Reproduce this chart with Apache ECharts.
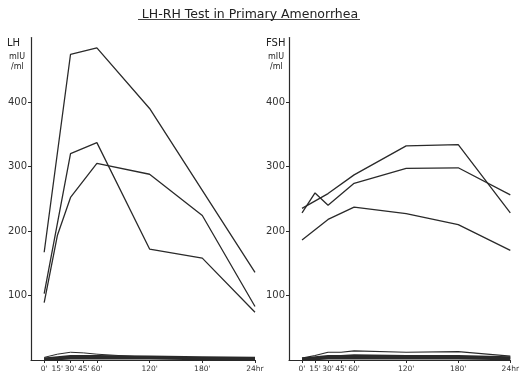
<!DOCTYPE html>
<html><head><meta charset="utf-8">
<script src="https://cdn.jsdelivr.net/npm/echarts@6/dist/echarts.min.js"></script>
<style>html,body{margin:0;padding:0;background:#fff}#c{width:522px;height:377px}</style>
</head><body><div id="c"></div>
<script>
const titleText = "LH-RH Test in Primary Amenorrhea";
const xMinutes = [0, 15, 30, 45, 60, 120, 180, 240];
const xLabels = ["0'", "15'", "30'", "45'", "60'", "120'", "180'", "24hr"];
const yTicks = [100, 200, 300, 400];

const lh1 = [167, null, 474, null, 484, 390, null, 136];
const lh2 = [103, null, 320, null, 337, 172, 158, 74];
const lh3 = [89, 193, 252, null, 305, 288, 224, 83];
const lh4 = [4, 9, 12, 11, 9, 4, 3, 2];
const lh5 = [2, 4, 6, 6, 6, 5, 4, 3];
const lh6 = [1, 2, 3, 3, 3, 3, 2, 2];

const fsh1 = [228, 259, 240, null, 274, 297, 298, 256];
const fsh2 = [235, null, 258, null, 287, 332, 334, 228];
const fsh3 = [186, null, 218, null, 237, 227, 210, 170];
const fsh4 = [3, 7, 12, 12, 14, 12, 13, 6];
const fsh5 = [2, 4, 6, 6, 7, 6, 6, 4];
const fsh6 = [1, 2, 3, 3, 3, 3, 3, 2];

function pairs(arr) {
  const out = [];
  arr.forEach((v, i) => { if (v !== null) out.push([xMinutes[i], v]); });
  return out;
}
const ink = '#2a2a2a';
function line(data, idx, w) {
  return { type: 'line', xAxisIndex: idx, yAxisIndex: idx, data: pairs(data), symbol: 'none',
    lineStyle: { color: ink, width: w || 1.3 }, silent: true, animation: false, z: w > 2 ? 3 : 2 };
}
function xAx(idx) {
  return { gridIndex: idx, type: 'value', min: -15, max: 240,
    axisLine: { show: true, onZero: false, lineStyle: { color: ink, width: 1.2 } },
    axisTick: { show: true, customValues: xMinutes, length: 3, lineStyle: { color: ink } },
    axisLabel: { customValues: xMinutes, fontSize: 7.5, color: '#333', margin: 5, fontFamily: 'DejaVu Sans',
      formatter: v => { const i = xMinutes.indexOf(v); return i >= 0 ? xLabels[i] : ''; } },
    splitLine: { show: false } };
}
function yAx(idx) {
  return { gridIndex: idx, type: 'value', min: 0, max: 500,
    axisLine: { show: true, onZero: false, lineStyle: { color: ink, width: 1.2 } },
    axisTick: { show: true, customValues: yTicks, length: 3, lineStyle: { color: ink } },
    axisLabel: { customValues: yTicks, fontSize: 10, color: '#333', margin: 4, fontFamily: 'DejaVu Sans' },
    splitLine: { show: false } };
}
const chart = echarts.init(document.getElementById('c'));
chart.setOption({
  backgroundColor: '#fff',
  animation: false,
  title: { text: titleText, left: 245, top: 3, textAlign: 'center',
    textStyle: { fontSize: 12.5, fontWeight: 'normal', color: '#222', fontFamily: 'DejaVu Sans' } },
  graphic: [
    { type: 'line', shape: { x1: 138, y1: 19.5, x2: 360, y2: 19.5 }, style: { stroke: '#444', lineWidth: 1 } },
    { type: 'text', left: 7, top: 38, style: { text: 'LH', fontSize: 10, fill: '#222', fontFamily: 'DejaVu Sans' } },
    { type: 'text', left: 9, top: 53, style: { text: 'mIU', fontSize: 8, fill: '#222', fontFamily: 'DejaVu Sans' } },
    { type: 'text', left: 11, top: 63, style: { text: '/ml', fontSize: 8, fill: '#222', fontFamily: 'DejaVu Sans' } },
    { type: 'text', left: 266, top: 38, style: { text: 'FSH', fontSize: 10, fill: '#222', fontFamily: 'DejaVu Sans' } },
    { type: 'text', left: 268, top: 53, style: { text: 'mIU', fontSize: 8, fill: '#222', fontFamily: 'DejaVu Sans' } },
    { type: 'text', left: 270, top: 63, style: { text: '/ml', fontSize: 8, fill: '#222', fontFamily: 'DejaVu Sans' } }
  ],
  grid: [
    { left: 31, top: 37.5, width: 224, height: 322.5 },
    { left: 289, top: 37.5, width: 226, height: 322.5 }
  ],
  xAxis: [xAx(0), xAx(1)],
  yAxis: [yAx(0), yAx(1)],
  series: [
    line(lh1, 0), line(lh2, 0), line(lh3, 0), line(lh4, 0, 1), line(lh5, 0, 2.5), line(lh6, 0, 3),
    line(fsh1, 1), line(fsh2, 1), line(fsh3, 1), line(fsh4, 1, 1.2), line(fsh5, 1, 2.5), line(fsh6, 1, 3)
  ]
});
</script></body></html>
